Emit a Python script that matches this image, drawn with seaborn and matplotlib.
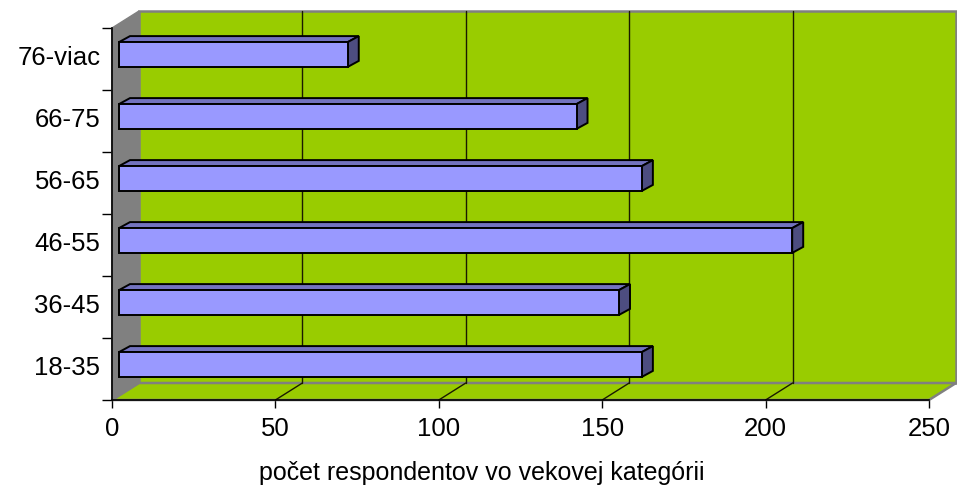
import numpy as np
import pandas as pd
import seaborn as sns
import matplotlib.pyplot as plt
from matplotlib.patches import Polygon
from matplotlib.lines import Line2D
from matplotlib.transforms import IdentityTransform, offset_copy

# data
categories = ['76-viac', '66-75', '56-65', '46-55', '36-45', '18-35']
counts = [70, 140, 160, 206, 153, 160]
x_ticks = [0, 50, 100, 150, 200, 250]

df = pd.DataFrame({'vek': categories, 'pocet': counts})

sns.set_theme(style='white')
plt.rcParams['font.family'] = ['Liberation Sans', 'DejaVu Sans']

DPI = 100
fig = plt.figure(figsize=(9.57, 4.87), dpi=DPI)
ax = fig.add_axes([112 / 957, 87 / 487, 817 / 957, 372 / 487])
ax.patch.set_visible(False)

sns.barplot(data=df, x='pocet', y='vek', orient='h', color='#9999FF',
            width=0.4, saturation=1, edgecolor='black', linewidth=1.4,
            ax=ax, zorder=5)
bars = list(ax.patches)
ax.set_xlim(0, 250)
ax.set_ylim(len(categories) - 0.5, -0.5)

# fake 3d depth, in pixels
WALL = (27, 17)
BAR_FRONT = (7, 4.5)
BAR_DEPTH = (11, 6)

GREEN = '#99CC00'
GRAY = '#808080'
TOP = '#7373BF'
SIDE = '#4D4D80'


def px(x, y):
    return ax.transData.transform((x, y))


def add_poly(pts, zorder, **kw):
    poly = Polygon(pts, closed=True, transform=IdentityTransform(),
                   clip_on=False, zorder=zorder, **kw)
    ax.add_artist(poly)


def add_line(xs, ys, zorder, **kw):
    ln = Line2D(xs, ys, transform=IdentityTransform(), clip_on=False,
                zorder=zorder, **kw)
    ax.add_artist(ln)


x0p, y0p = px(0, len(categories) - 0.5)
x1p, y1p = px(250, -0.5)
dx, dy = WALL

# back wall, side wall and floor
add_poly([(x0p + dx, y0p + dy), (x1p + dx, y0p + dy),
          (x1p + dx, y1p + dy), (x0p + dx, y1p + dy)], 1,
         facecolor=GREEN, edgecolor=GRAY, linewidth=1.8)
add_poly([(x0p, y0p), (x0p + dx, y0p + dy),
          (x0p + dx, y1p + dy), (x0p, y1p)], 1.2,
         facecolor=GRAY, edgecolor=GRAY, linewidth=1)
add_poly([(x0p, y0p), (x1p, y0p),
          (x1p + dx, y0p + dy), (x0p + dx, y0p + dy)], 1.1,
         facecolor=GREEN, edgecolor=GRAY, linewidth=1.8)

# grid lines on back wall and floor
for v in x_ticks[1:-1]:
    xv, _ = px(v, 0)
    add_line([xv + dx, xv + dx], [y0p + dy, y1p + dy], 1.5,
             color='#1a1a00', linewidth=1)
    add_line([xv, xv + dx], [y0p, y0p + dy], 1.5,
             color='#1a1a00', linewidth=1)

# bars: shift seaborn's front face and add top / side faces
front = offset_copy(ax.transData, fig=fig, x=BAR_FRONT[0], y=BAR_FRONT[1],
                    units='dots')
bx, by = BAR_DEPTH
for p in bars:
    x, y = p.get_x(), p.get_y()
    w, h = p.get_width(), p.get_height()
    (l, b), (r, t) = np.sort([px(x, y), px(x + w, y + h)], axis=0)
    l, r = l + BAR_FRONT[0], r + BAR_FRONT[0]
    b, t = b + BAR_FRONT[1], t + BAR_FRONT[1]
    p.set_transform(front)
    p.set_clip_on(False)
    add_poly([(l, t), (r, t), (r + bx, t + by), (l + bx, t + by)], 4,
             facecolor=TOP, edgecolor='black', linewidth=1.4)
    add_poly([(r, b), (r + bx, b + by), (r + bx, t + by), (r, t)], 4,
             facecolor=SIDE, edgecolor='black', linewidth=1.4)

# axes
sns.despine(ax=ax, top=True, right=True)
for s in ['left', 'bottom']:
    ax.spines[s].set_color('black')
    ax.spines[s].set_linewidth(1.2)
    ax.spines[s].set_zorder(3)

ax.set_xticks(x_ticks)
# labels sit a little above the category centre, as in the original
ax.set_yticks(np.arange(len(categories)) - 0.06, labels=categories)
ax.set_yticks(np.arange(-0.5, len(categories), 1), minor=True)
ax.tick_params(axis='x', bottom=True, direction='out', length=6, width=1,
               color='black', labelsize=18.5, labelcolor='black', pad=6)
ax.tick_params(axis='y', which='major', left=True, length=0,
               labelsize=18.5, labelcolor='black', pad=8.5)
ax.tick_params(axis='y', which='minor', left=True, direction='out',
               length=7, width=1, color='black')

ax.set_ylabel('')
ax.set_xlabel('počet respondentov vo vekovej kategórii', fontsize=18,
              color='black', va='center')
ax.xaxis.set_label_coords(0.452, -0.195)

fig.savefig('out.png', dpi=DPI)
